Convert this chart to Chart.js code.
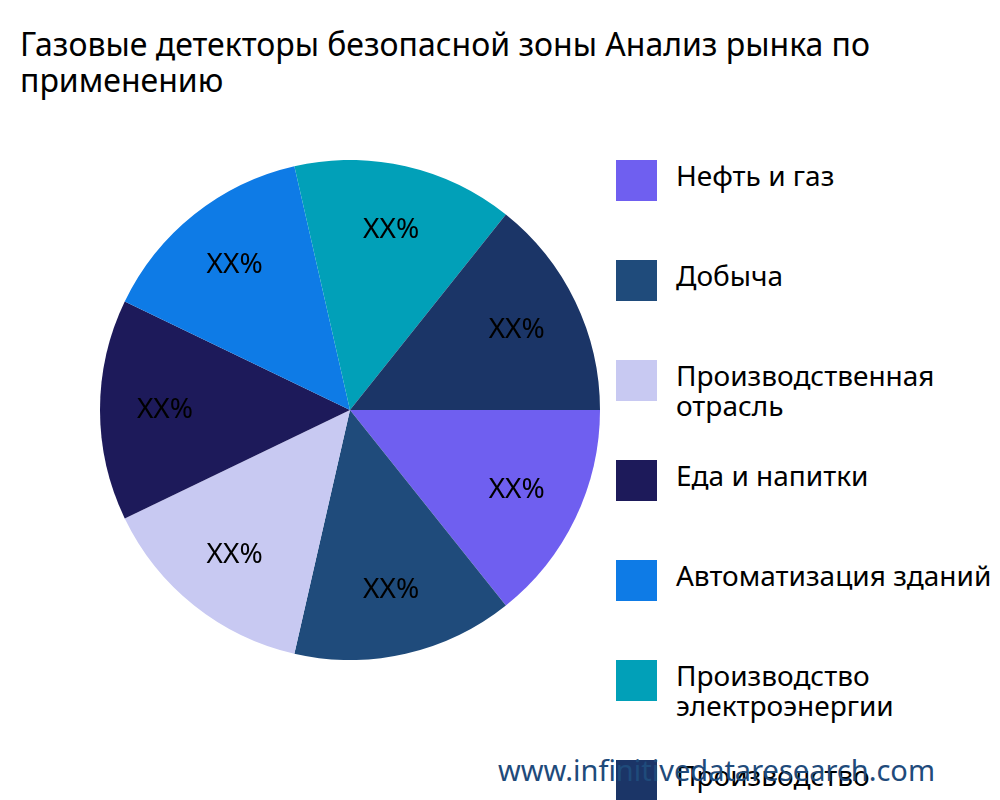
<!DOCTYPE html>
<html><head><meta charset="utf-8">
<script src="https://cdn.jsdelivr.net/npm/chart.js@4"></script>
<style>
body{margin:0;width:1000px;height:800px;overflow:hidden;background:#fff;font-family:"Noto Sans",sans-serif;position:relative}
#title{position:absolute;left:20px;top:26px;font-size:32px;line-height:36px;white-space:nowrap;color:#000}
#wrap{position:absolute;left:100px;top:160px;width:500px;height:500px}
#legend{position:absolute;left:616px;top:160px}
.item{position:absolute;left:0;width:500px}
.box{position:absolute;left:0;top:0;width:41px;height:41px}
.txt{position:absolute;left:60px;top:0px;font-size:28px;line-height:30px;white-space:nowrap;color:#000}
#wm{position:absolute;left:498px;top:750px;font-size:29px;color:#1F4B7B;white-space:nowrap}
</style></head><body>
<div id="title">Газовые детекторы безопасной зоны Анализ рынка по<br>применению</div>
<div id="wrap"><canvas id="c"></canvas></div>
<div id="legend"></div>
<div id="wm">www.infinitivedataresearch.com</div>
<script>
const categories=["Нефть и газ","Добыча","Производственная отрасль","Еда и напитки","Автоматизация зданий","Производство электроэнергии","Производство"];
const legendLines=[["Нефть и газ"],["Добыча"],["Производственная","отрасль"],["Еда и напитки"],["Автоматизация зданий"],["Производство","электроэнергии"],["Производство"]];
const values=[1,1,1,1,1,1,1];
const sliceLabels=["XX%","XX%","XX%","XX%","XX%","XX%","XX%"];
const colors=["#6F5FF0","#1F4B7B","#C8C9F2","#1D1A5A","#0E7BE6","#01A0B8","#1B3567"];
const lg=document.getElementById('legend');
legendLines.forEach((l,i)=>{const d=document.createElement('div');d.className='item';d.style.top=(i*100)+'px';
d.innerHTML='<div class="box" style="background:'+colors[i]+'"></div><div class="txt">'+l.join('<br>')+'</div>';lg.appendChild(d);});
const lbl={id:'lbl',afterDatasetsDraw(ch){const ctx=ch.ctx;ch.getDatasetMeta(0).data.forEach((a,i)=>{
const m=(a.startAngle+a.endAngle)/2,r=a.outerRadius*0.74;ctx.save();ctx.fillStyle='#000';ctx.font='28px "Noto Sans"';ctx.textAlign='center';ctx.textBaseline='middle';
ctx.fillText(sliceLabels[i],a.x+Math.cos(m)*r,a.y+Math.sin(m)*r);ctx.restore();});}};
new Chart(document.getElementById('c'),{type:'pie',data:{labels:categories,datasets:[{data:values,backgroundColor:colors,borderWidth:0}]},
options:{responsive:true,maintainAspectRatio:false,animation:false,rotation:90,layout:{padding:0},plugins:{legend:{display:false},tooltip:{enabled:false}}},plugins:[lbl]});
</script></body></html>
